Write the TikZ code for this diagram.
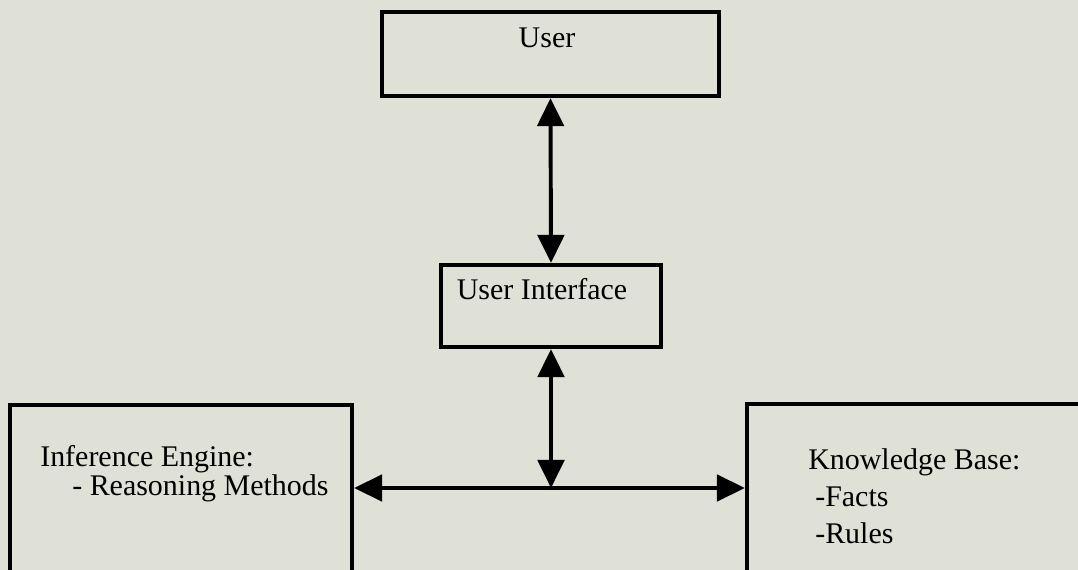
\documentclass[tikz,border=0pt]{standalone}
\usepackage{fontspec}
\setmainfont{Liberation Serif}
\usetikzlibrary{arrows.meta}
\definecolor{paper}{RGB}{223,224,214}

\begin{document}
\begin{tikzpicture}[
    x=0.025cm, y=-0.025cm,
    box/.style={
        draw,
        line width=3pt,
        inner sep=0pt
    },
    boxtext/.style={font=\fontsize{21.3}{19.2}\selectfont, inner sep=0pt},
    link/.style={
        {Triangle[length=0.7cm,width=0.66cm]}-{Triangle[length=0.7cm,width=0.66cm]},
        line width=2.8pt
    }
]

% Page
\fill[paper] (0,0) rectangle (1078,570);
\useasboundingbox (0,0) rectangle (1078,570);
\clip (0,0) rectangle (1078,570);

% Top boxes
\node[box, minimum width=8.425cm, minimum height=2.1cm] (user) at (550.5,54) {};
\node[box, minimum width=5.5cm, minimum height=2.05cm] (ui) at (551,306) {};

% Bottom boxes (cut off by the page)
\node[box, minimum width=8.55cm, minimum height=5.875cm] (ie) at (181,522.5) {};
\node[box, minimum width=10.075cm, minimum height=5.9cm] (kb) at (948.5,522) {};

% Texts (base = last line)
\node[boxtext, anchor=base] (usertxt) at (547,48) {User};
\node[boxtext, anchor=base] (uitxt) at (542,300) {User Interface};
\node[boxtext, anchor=base west, align=left] (ietxt) at (40,495)
    {Inference Engine:\\\hspace*{0.8cm}- Reasoning Methods};
\node[boxtext, anchor=base west, align=left,
    font=\fontsize{21.3}{26.3}\selectfont] (kbtxt) at (808,543)
    {Knowledge Base:\\\hspace*{0.175cm}-Facts\\\hspace*{0.175cm}-Rules};

% Connectors
\coordinate (hub) at (551,488);
\draw[link] (user.south) -- (ui.north);
\draw[link] (ui.south) -- (hub);
\draw[link] (hub -| ie.east) -- (hub -| kb.west);

\end{tikzpicture}
\end{document}
